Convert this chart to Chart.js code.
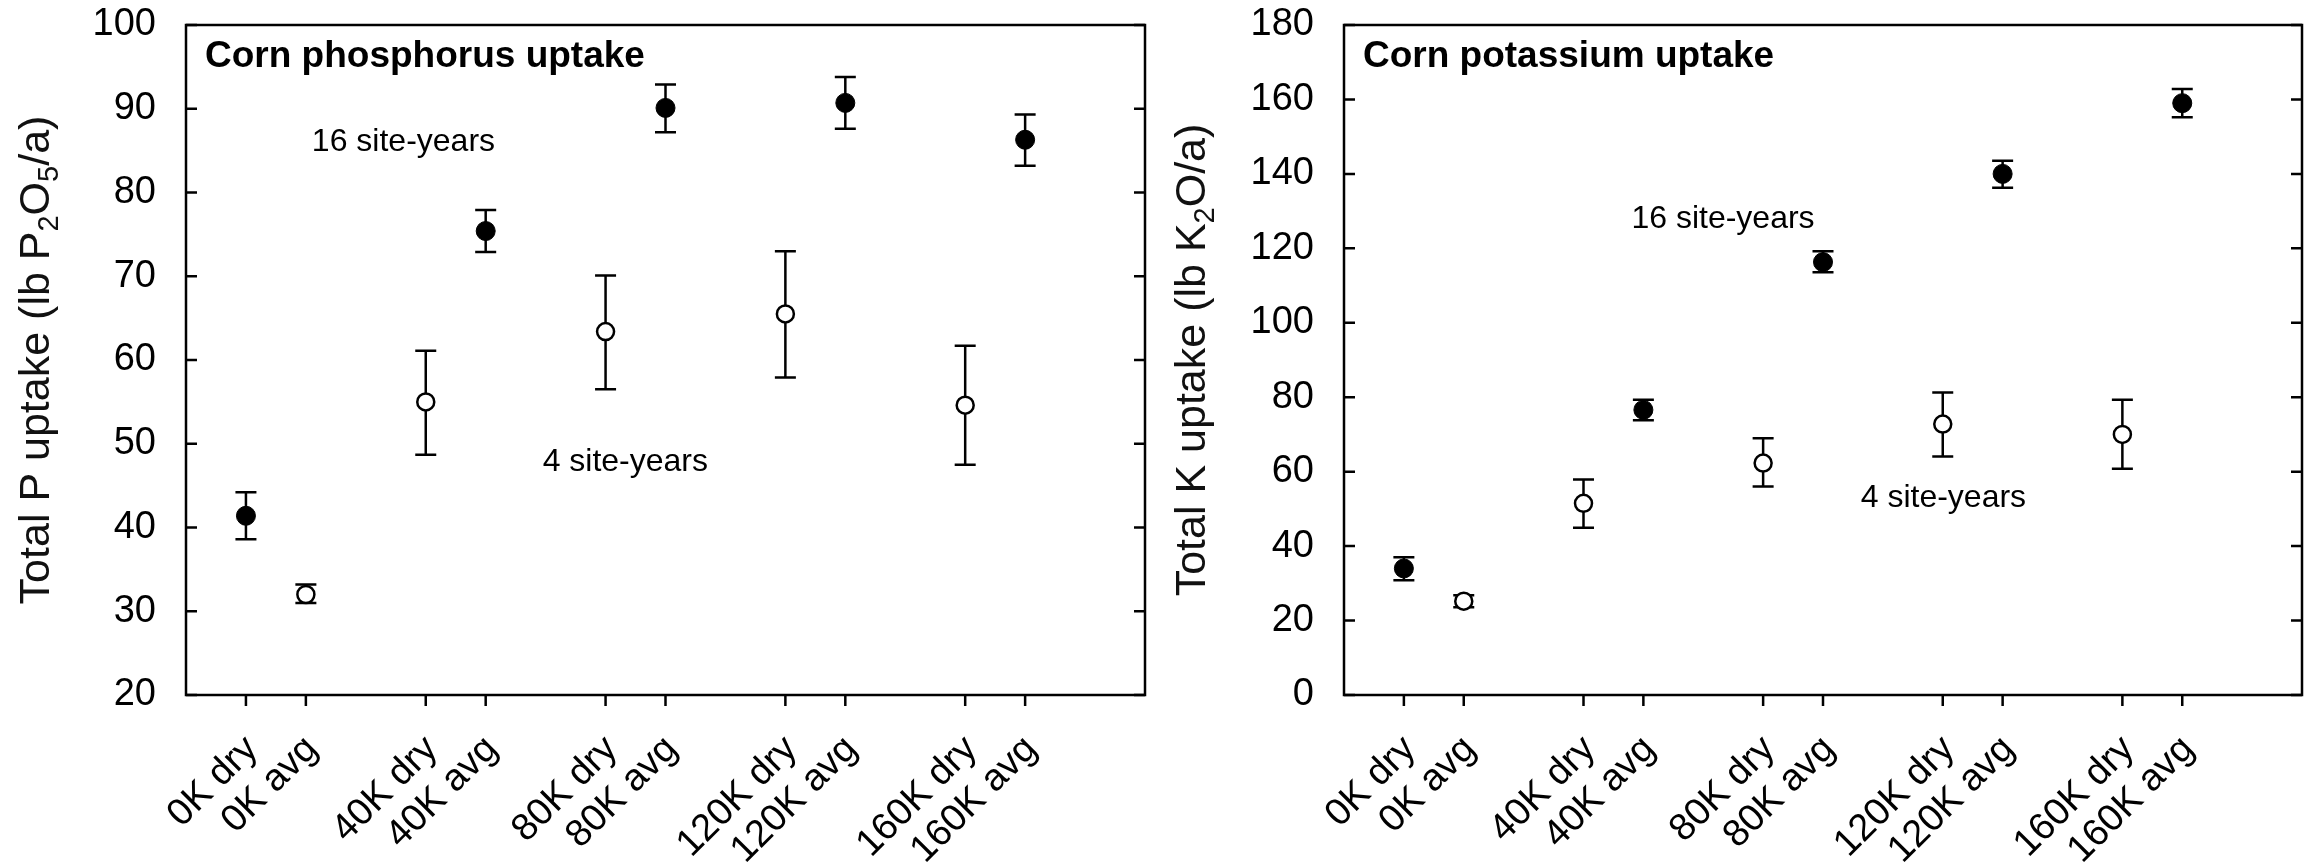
<!DOCTYPE html>
<html>
<head>
<meta charset="utf-8">
<script src="https://cdn.jsdelivr.net/npm/chart.js@4.4.0/dist/chart.umd.min.js"></script>
<style>
  html, body { margin: 0; padding: 0; background: #fff; }
  #wrap { position: relative; width: 2313px; height: 864px; }
  .panel { position: absolute; top: 0; height: 864px; }
</style>
</head>
<body>
<div id="wrap">
  <div class="panel" style="left:0;width:1156px"><canvas id="pChart"></canvas></div>
  <div class="panel" style="left:1156px;width:1157px"><canvas id="kChart"></canvas></div>
</div>
<script>
// x positions of the treatments and their labels
const tickPos = [1, 2, 4, 5, 7, 8, 10, 11, 13, 14];
const tickLabels = ['0K dry', '0K avg', '40K dry', '40K avg', '80K dry', '80K avg',
                    '120K dry', '120K avg', '160K dry', '160K avg'];

// phosphorus uptake (16 site-years = filled, 4 site-years = open)
const pFilledX = [1, 5, 8, 11, 14];
const pFilledY = [41.4, 75.4, 90.1, 90.7, 86.3];
const pFilledLo = [38.6, 72.9, 87.2, 87.6, 83.2];
const pFilledHi = [44.2, 77.9, 92.9, 93.8, 89.3];
const pOpenX = [2, 4, 7, 10, 13];
const pOpenY = [32.0, 55.0, 63.4, 65.5, 54.6];
const pOpenLo = [31.0, 48.7, 56.5, 57.9, 47.5];
const pOpenHi = [33.2, 61.1, 70.1, 73.0, 61.7];

// potassium uptake
const kFilledX = [1, 5, 8, 11, 14];
const kFilledY = [34.0, 76.6, 116.3, 140.0, 159.0];
const kFilledLo = [30.8, 73.8, 113.6, 136.3, 155.2];
const kFilledHi = [37.0, 79.3, 119.2, 143.5, 162.8];
const kOpenX = [2, 4, 7, 10, 13];
const kOpenY = [25.2, 51.5, 62.3, 72.8, 70.0];
const kOpenLo = [23.6, 44.9, 56.0, 64.1, 60.8];
const kOpenHi = [26.8, 57.9, 69.0, 81.3, 79.3];

// text labels inside the plots (data coordinates)
const pNotes = [
  { text: '16 site-years', x: 2.1, y: 84.9 },
  { text: '4 site-years', x: 5.95, y: 46.7 }
];
const kNotes = [
  { text: '16 site-years', x: 4.8, y: 125.5 },
  { text: '4 site-years', x: 8.63, y: 50.4 }
];

const FONT = "'Liberation Sans', Arial, sans-serif";
Chart.defaults.font.family = FONT;
Chart.defaults.color = '#000';

const pts = (xs, ys) => xs.map((x, i) => ({ x: x, y: ys[i] }));

// frame, inner ticks, error bars and texts
const framePlugin = {
  id: 'frame',
  beforeDatasetsDraw(chart, args, o) {
    const { ctx, scales: { x, y } } = chart;
    ctx.save();
    ctx.strokeStyle = '#000';
    ctx.lineWidth = 2.5;
    o.bars.forEach(b => {
      b.x.forEach((xv, i) => {
        const px = x.getPixelForValue(xv);
        const lo = y.getPixelForValue(b.lo[i]);
        const hi = y.getPixelForValue(b.hi[i]);
        ctx.beginPath();
        ctx.moveTo(px, lo); ctx.lineTo(px, hi);
        ctx.moveTo(px - 10.5, lo); ctx.lineTo(px + 10.5, lo);
        ctx.moveTo(px - 10.5, hi); ctx.lineTo(px + 10.5, hi);
        ctx.stroke();
      });
    });
    ctx.restore();
  },
  afterDraw(chart, args, o) {
    const { ctx, chartArea: a, scales: { x, y } } = chart;
    ctx.save();
    ctx.strokeStyle = '#000';
    ctx.lineWidth = 2.5;
    ctx.strokeRect(a.left, a.top, a.right - a.left, a.bottom - a.top);
    ctx.beginPath();
    y.ticks.forEach(t => {
      const py = y.getPixelForValue(t.value);
      ctx.moveTo(a.left, py); ctx.lineTo(a.left + 11, py);
      ctx.moveTo(a.right, py); ctx.lineTo(a.right - 11, py);
    });
    x.ticks.forEach(t => {
      const px = x.getPixelForValue(t.value);
      ctx.moveTo(px, a.bottom); ctx.lineTo(px, a.bottom + 11);
    });
    ctx.stroke();

    // panel title
    ctx.fillStyle = '#000';
    ctx.textAlign = 'left';
    ctx.textBaseline = 'alphabetic';
    ctx.font = 'bold 37px ' + FONT;
    ctx.fillText(o.title, a.left + 19, a.top + 42);

    // notes
    ctx.font = '32px ' + FONT;
    o.notes.forEach(n => {
      ctx.fillText(n.text, x.getPixelForValue(n.x), y.getPixelForValue(n.y));
    });

    // y axis title with subscripts
    const main = '43px ' + FONT, sub = '29px ' + FONT;
    ctx.translate(49, (a.top + a.bottom) / 2);
    ctx.rotate(-Math.PI / 2);
    let total = 0;
    o.yTitle.forEach(p => {
      ctx.font = p.sub ? sub : main;
      p.w = ctx.measureText(p.t).width;
      total += p.w;
    });
    let cx = -total / 2;
    ctx.fillStyle = '#111';
    o.yTitle.forEach(p => {
      ctx.font = p.sub ? sub : main;
      ctx.fillText(p.t, cx, p.sub ? 9 : 0);
      cx += p.w;
    });
    ctx.restore();
  }
};

function makeChart(id, cfg) {
  return new Chart(document.getElementById(id), {
    type: 'scatter',
    data: {
      datasets: [
        {
          label: '16 site-years',
          data: pts(cfg.fx, cfg.fy),
          pointRadius: 9.5,
          pointBackgroundColor: '#000',
          pointBorderColor: '#000',
          pointBorderWidth: 1
        },
        {
          label: '4 site-years',
          data: pts(cfg.ox, cfg.oy),
          pointRadius: 8.5,
          pointBackgroundColor: '#fff',
          pointBorderColor: '#000',
          pointBorderWidth: 2.5
        }
      ]
    },
    options: {
      responsive: true,
      maintainAspectRatio: false,
      animation: false,
      layout: { padding: { top: 25, right: cfg.padRight, left: 0, bottom: 0 } },
      plugins: {
        legend: { display: false },
        tooltip: { enabled: false },
        frame: {
          title: cfg.title,
          notes: cfg.notes,
          yTitle: cfg.yTitle,
          bars: [
            { x: cfg.fx, lo: cfg.flo, hi: cfg.fhi },
            { x: cfg.ox, lo: cfg.olo, hi: cfg.ohi }
          ]
        }
      },
      scales: {
        x: {
          type: 'linear',
          min: 0,
          max: 16,
          afterBuildTicks: s => { s.ticks = tickPos.map(v => ({ value: v })); },
          afterFit: s => { s.height = 169; s.paddingLeft = 0; s.paddingRight = 0; },
          grid: { display: false },
          border: { display: false },
          ticks: {
            autoSkip: false,
            minRotation: 45,
            maxRotation: 45,
            padding: 24,
            labelOffset: 6,
            font: { size: 38 },
            color: '#000',
            callback: v => tickLabels[tickPos.indexOf(v)]
          }
        },
        y: {
          min: cfg.ymin,
          max: cfg.ymax,
          afterFit: s => { s.width = cfg.left; s.paddingTop = 0; s.paddingBottom = 0; },
          grid: { display: false },
          border: { display: false },
          ticks: { stepSize: cfg.step, padding: 22, font: { size: 38 }, color: '#000' }
        }
      }
    },
    plugins: [framePlugin]
  });
}

makeChart('pChart', {
  fx: pFilledX, fy: pFilledY, flo: pFilledLo, fhi: pFilledHi,
  ox: pOpenX, oy: pOpenY, olo: pOpenLo, ohi: pOpenHi,
  ymin: 20, ymax: 100, step: 10, left: 186, padRight: 10,
  title: 'Corn phosphorus uptake',
  notes: pNotes,
  yTitle: [{ t: 'Total P uptake (lb P' }, { t: '2', sub: true }, { t: 'O' }, { t: '5', sub: true }, { t: '/a)' }]
});

makeChart('kChart', {
  fx: kFilledX, fy: kFilledY, flo: kFilledLo, fhi: kFilledHi,
  ox: kOpenX, oy: kOpenY, olo: kOpenLo, ohi: kOpenHi,
  ymin: 0, ymax: 180, step: 20, left: 188, padRight: 9,
  title: 'Corn potassium uptake',
  notes: kNotes,
  yTitle: [{ t: 'Total K uptake (lb K' }, { t: '2', sub: true }, { t: 'O/a)' }]
});
</script>
</body>
</html>
